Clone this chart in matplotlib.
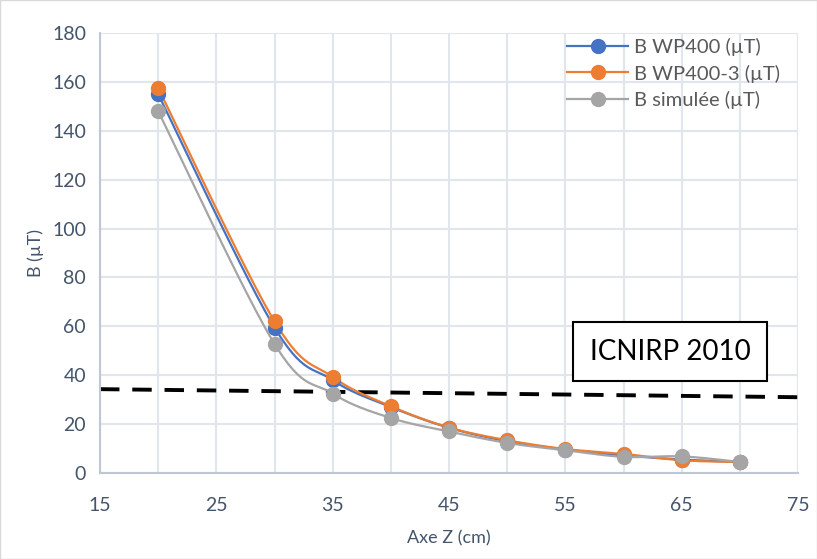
import numpy as np
import matplotlib
matplotlib.use("Agg")
import matplotlib.pyplot as plt

plt.rcParams['font.family'] = ['Lato', 'DejaVu Sans']

# données
z_cm = [20, 30, 35, 40, 45, 50, 55, 60, 65, 70]
b_wp400 = [155, 59.5, 38, 27, 18.5, 13, 9.6, 7.2, 5.5, 4.5]
b_wp400_3 = [157.5, 62, 39.3, 27.3, 18.6, 13.4, 9.8, 7.8, 5.2, 4.5]
b_simulee = [148, 52.8, 32.5, 22.5, 17, 12.3, 9.3, 6.6, 6.8, 4.5]
series_labels = ['B WP400 (µT)', 'B WP400-3 (µT)', 'B simulée (µT)']
colors = ['#4472C4', '#ED7D31', '#A5A5A5']
icnirp_x = [15, 75]
icnirp_y = [34.3, 31.0]


def smooth(x, y, n=30):
    # courbe lissée façon Excel (bezier type catmull-rom)
    x = np.asarray(x, float)
    y = np.asarray(y, float)
    px = np.concatenate([[x[0]], x, [x[-1]]])
    py = np.concatenate([[y[0]], y, [y[-1]]])
    xs, ys = [], []
    t = np.linspace(0, 1, n)
    for i in range(1, len(px) - 2):
        p0 = np.array([px[i], py[i]])
        p3 = np.array([px[i + 1], py[i + 1]])
        p1 = p0 + (np.array([px[i + 1], py[i + 1]]) - np.array([px[i - 1], py[i - 1]])) / 6
        p2 = p3 - (np.array([px[i + 2], py[i + 2]]) - np.array([px[i], py[i]])) / 6
        b = ((1 - t) ** 3)[:, None] * p0 + (3 * (1 - t) ** 2 * t)[:, None] * p1 \
            + (3 * (1 - t) * t ** 2)[:, None] * p2 + (t ** 3)[:, None] * p3
        xs.extend(b[:, 0])
        ys.extend(b[:, 1])
    return xs, ys


fig = plt.figure(figsize=(8.17, 5.59), dpi=100)
ax = fig.add_axes([100 / 817, 1 - 473 / 559, 698 / 817, 440 / 559])

for yv, lab, c in zip([b_wp400, b_wp400_3, b_simulee], series_labels, colors):
    sx, sy = smooth(z_cm, yv)
    ax.plot(sx, sy, color=c, lw=1.6, zorder=3)
    ax.plot(z_cm, yv, 'o', color=c, ms=10, zorder=4)
    ax.plot([], [], '-o', color=c, lw=1.6, ms=10, label=lab)

ax.plot(icnirp_x, icnirp_y, color='black', lw=2.8, dashes=(5, 3.3), zorder=2)
ax.text(64, 49.7, 'ICNIRP 2010', fontsize=20, ha='center', va='center', color='black',
        bbox=dict(boxstyle='square,pad=0.6', fc='white', ec='black', lw=1.5), zorder=5)

ax.set_xlim(15, 75)
ax.set_ylim(0, 180)
ax.set_xticks(range(15, 76, 10))
ax.set_yticks(range(0, 181, 20))
ax.set_xticks(range(20, 75, 10), minor=True)
ax.grid(True, which='both', color='#E1E5EC', lw=1.5, zorder=0)
ax.tick_params(which='both', length=0, labelsize=14, labelcolor='#44546A')
ax.tick_params(axis='x', pad=17)
ax.tick_params(axis='y', pad=10)
for s in ['top', 'right']:
    ax.spines[s].set_visible(False)
for s in ['left', 'bottom']:
    ax.spines[s].set_color('#BFC6D4')
    ax.spines[s].set_linewidth(1.5)

ax.set_xlabel('Axe Z (cm)', fontsize=13, color='#44546A', labelpad=12)
ax.set_ylabel('B (µT)', fontsize=13, color='#44546A', labelpad=6)

leg = ax.legend(loc='upper right', bbox_to_anchor=(1.0, 1.03), fontsize=14.5, frameon=False,
                handlelength=3.0, handletextpad=0.3, labelspacing=0.42,
                labelcolor='#595959')

fig.patches.append(plt.Rectangle((0, 0), 1, 1, transform=fig.transFigure,
                                 fill=False, ec='#D9D9D9', lw=1))
fig.savefig('out.png', dpi=100)
